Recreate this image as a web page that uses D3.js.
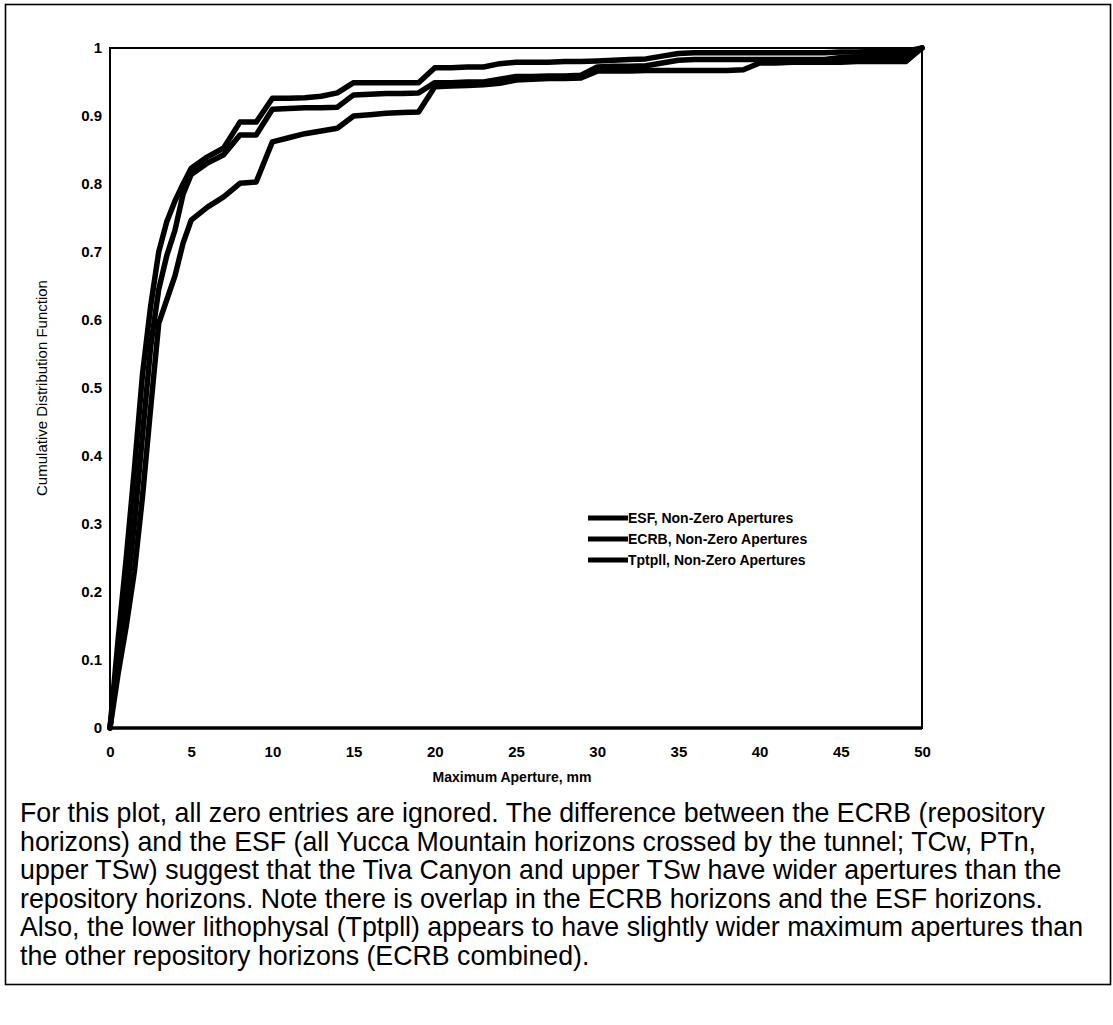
<!DOCTYPE html>
<html>
<head>
<meta charset="utf-8">
<script src="https://cdn.jsdelivr.net/npm/d3@7"></script>
<style>
html, body { margin: 0; padding: 0; background: #fff; }
svg { display: block; }
text { font-family: "Liberation Sans", Arial, sans-serif; fill: #000; }
</style>
</head>
<body>
<svg id="chart" width="1113" height="1025"></svg>
<script>
// ---- data ----
const apertureMm = [0,0.5,1,1.5,2,2.5,3,3.5,4,4.5,
  5,6,7,8,9,10,11,12,13,14,
  15,16,17,18,19,20,21,22,23,24,
  25,26,27,28,29,30,31,32,33,34,
  35,36,37,38,39,40,41,42,43,44,
  45,46,47,48,49,50];

const esfCdf = [0,0.08,0.15,0.23,0.34,0.47,0.595,0.63,0.665,0.713,
  0.747,0.766,0.781,0.801,0.803,0.862,0.868,0.874,0.878,0.882,
  0.900,0.902,0.904,0.905,0.906,0.943,0.944,0.945,0.946,0.948,
  0.953,0.954,0.955,0.955,0.956,0.966,0.966,0.966,0.967,0.967,
  0.967,0.967,0.967,0.967,0.968,0.978,0.978,0.979,0.979,0.979,
  0.979,0.980,0.980,0.980,0.980,1.0];

const ecrbCdf = [0,0.13,0.25,0.38,0.52,0.62,0.70,0.745,0.775,0.80,
  0.823,0.840,0.853,0.891,0.891,0.926,0.926,0.927,0.929,0.934,
  0.949,0.949,0.949,0.949,0.949,0.971,0.971,0.972,0.972,0.977,
  0.979,0.979,0.979,0.980,0.980,0.981,0.982,0.983,0.984,0.988,
  0.992,0.993,0.993,0.993,0.993,0.993,0.993,0.993,0.993,0.993,
  0.994,0.994,0.995,0.995,0.995,1.0];

const tptpllCdf = [0,0.10,0.19,0.30,0.43,0.56,0.645,0.695,0.732,0.785,
  0.814,0.831,0.843,0.872,0.872,0.910,0.911,0.912,0.912,0.913,
  0.931,0.932,0.933,0.933,0.934,0.949,0.949,0.950,0.950,0.954,
  0.958,0.958,0.959,0.959,0.960,0.972,0.973,0.973,0.974,0.978,
  0.982,0.983,0.983,0.983,0.983,0.983,0.983,0.983,0.983,0.983,
  0.986,0.987,0.987,0.987,0.987,1.0];

const seriesNames = ["ESF, Non-Zero Apertures", "ECRB, Non-Zero Apertures", "Tptpll, Non-Zero Apertures"];
const xTicks = [0,5,10,15,20,25,30,35,40,45,50];
const yTicks = [0,0.1,0.2,0.3,0.4,0.5,0.6,0.7,0.8,0.9,1];
const xTitle = "Maximum Aperture, mm";
const yTitle = "Cumulative Distribution Function";
const captionLines = [
  "For this plot, all zero entries are ignored. The difference between the ECRB (repository",
  "horizons) and the ESF (all Yucca Mountain horizons crossed by the tunnel; TCw, PTn,",
  "upper TSw) suggest that the Tiva Canyon and upper TSw have wider apertures than the",
  "repository horizons. Note there is overlap in the ECRB horizons and the ESF horizons.",
  "Also, the lower lithophysal (Tptpll) appears to have slightly wider maximum apertures than",
  "the other repository horizons (ECRB combined)."
];

// ---- layout ----
const svg = d3.select("#chart");
const plot = {left: 110, right: 922, top: 48, bottom: 728};

const x = d3.scaleLinear().domain([0, 50]).range([plot.left, plot.right]);
const y = d3.scaleLinear().domain([0, 1]).range([plot.bottom, plot.top]);

// outer box
svg.append("rect")
  .attr("x", 5.5).attr("y", 4.5)
  .attr("width", 1105).attr("height", 980)
  .attr("fill", "none").attr("stroke", "#000").attr("stroke-width", 1.6);

// axes via d3
const xAxis = d3.axisBottom(x).tickValues(xTicks).tickSize(0).tickPadding(18)
  .tickFormat(d3.format("d"));
const yAxis = d3.axisLeft(y).tickValues(yTicks).tickSize(0).tickPadding(8)
  .tickFormat(d => d === 0 || d === 1 ? String(d) : d3.format(".1f")(d));

const gx = svg.append("g").attr("transform", `translate(0,${plot.bottom})`).call(xAxis);
const gy = svg.append("g").attr("transform", `translate(${plot.left},0)`).call(yAxis);
[gx, gy].forEach(g => {
  g.select(".domain").remove();
  g.selectAll("text").style("font-family", '"Liberation Sans", Arial, sans-serif')
    .style("font-size", "15px").style("font-weight", "bold").attr("fill", "#000");
});

// frame
svg.append("rect")
  .attr("x", plot.left).attr("y", plot.top)
  .attr("width", plot.right - plot.left).attr("height", plot.bottom - plot.top)
  .attr("fill", "none").attr("stroke", "#000").attr("stroke-width", 2);
svg.append("line")
  .attr("x1", plot.left).attr("x2", plot.right)
  .attr("y1", plot.bottom).attr("y2", plot.bottom)
  .attr("stroke", "#000").attr("stroke-width", 3.5);

// axis titles
svg.append("text")
  .attr("x", (plot.left + plot.right) / 2 - 4).attr("y", 782)
  .attr("text-anchor", "middle")
  .style("font-size", "14px").style("font-weight", "bold")
  .text(xTitle);
svg.append("text")
  .attr("transform", `translate(47,${(plot.top + plot.bottom) / 2}) rotate(-90)`)
  .attr("text-anchor", "middle")
  .style("font-size", "15px")
  .text(yTitle);

// curves
const series = [esfCdf, ecrbCdf, tptpllCdf];
const line = d3.line().x((d, i) => x(apertureMm[i])).y(d => y(d));
svg.append("g").selectAll("path").data(series).join("path")
  .attr("d", d => line(d))
  .attr("fill", "none").attr("stroke", "#000")
  .attr("stroke-width", 5.5).attr("stroke-linejoin", "round").attr("stroke-linecap", "round");

// legend
const legend = svg.append("g").attr("transform", "translate(588,518)");
const rows = legend.selectAll("g").data(seriesNames).join("g")
  .attr("transform", (d, i) => `translate(0,${i * 21})`);
rows.append("line").attr("x1", 0).attr("x2", 40).attr("y1", 0).attr("y2", 0)
  .attr("stroke", "#000").attr("stroke-width", 5);
rows.append("text").attr("x", 40).attr("y", 5)
  .style("font-size", "14px").style("font-weight", "bold")
  .text(d => d);

// caption
const cap = svg.append("g");
const capText = cap.selectAll("text").data(captionLines).join("text")
  .attr("x", 20).attr("y", (d, i) => 822 + i * 28.5)
  .style("font-size", "20px")
  .text(d => d);
// fit font size so the first line spans its width in the reference
const w0 = capText.nodes()[0].getComputedTextLength();
const fs = 20 * 1025 / w0;
capText.style("font-size", fs.toFixed(2) + "px");
</script>
</body>
</html>
